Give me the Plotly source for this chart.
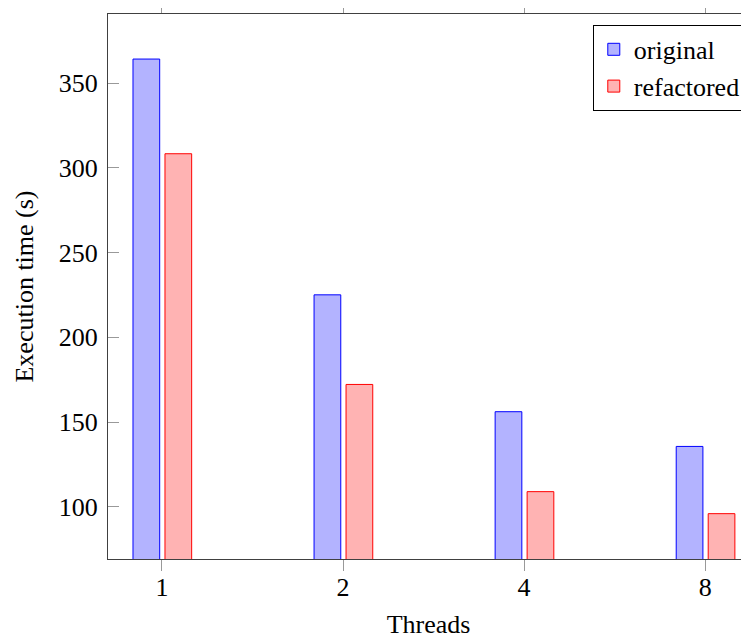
import plotly.graph_objects as go

threads = ["1", "2", "4", "8"]
original = [364.3, 225.1, 156.1, 135.6]
refactored = [308.4, 172.2, 108.9, 95.9]
y_ticks = [100, 150, 200, 250, 300, 350]

FONT = "Liberation Serif"
BAR_W = 0.1475
X_RANGE = [-0.298, 3.242]

fig = go.Figure()
fig.add_trace(go.Bar(
    x=threads, y=original, name="original",
    width=BAR_W, offset=-0.160,
    marker=dict(color="#B3B3FF", line=dict(color="#0000FF", width=1)),
))
fig.add_trace(go.Bar(
    x=threads, y=refactored, name="refactored",
    width=BAR_W, offset=0.0166,
    marker=dict(color="#FFB3B3", line=dict(color="#FF0000", width=1)),
))
# invisible helper trace so the label axis is drawn
fig.add_trace(go.Scatter(
    x=threads, y=original, xaxis="x2", mode="markers",
    marker=dict(opacity=0), showlegend=False, hoverinfo="skip",
))

fig.update_layout(
    width=741, height=631,
    margin=dict(l=100, r=0, t=6, b=80),
    paper_bgcolor="white", plot_bgcolor="white",
    barmode="overlay",
    font=dict(family=FONT, size=26, color="black"),
    showlegend=True,
    legend=dict(
        x=0.995, y=0.98, xanchor="right", yanchor="top",
        bordercolor="black", borderwidth=1, bgcolor="white",
        font=dict(family=FONT, size=26, color="black"),
        tracegroupgap=0,
    ),
    xaxis=dict(
        type="category", range=X_RANGE, automargin=False,
        showline=True, linecolor="#404040", linewidth=1, mirror="ticks",
        ticks="outside", ticklen=11, tickcolor="#999999", tickwidth=1,
        showticklabels=False,
        showgrid=False, zeroline=False,
        title=dict(text="Threads", standoff=44, font=dict(size=26)),
    ),
    xaxis2=dict(
        type="category", range=X_RANGE, overlaying="x", side="bottom",
        anchor="y", automargin=False,
        showline=False, ticks="", showgrid=False, zeroline=False,
        ticklabelstandoff=10, tickfont=dict(size=26),
    ),
    yaxis=dict(
        range=[69.14, 390.9], tickvals=y_ticks, automargin=False,
        showline=True, linecolor="#404040", linewidth=1, mirror=False,
        ticks="inside", ticklen=11, tickcolor="#999999", tickwidth=1,
        showgrid=False, zeroline=False, ticklabelstandoff=4,
        title=dict(text="Execution time (s)", standoff=17, font=dict(size=26)),
        tickfont=dict(size=26),
    ),
)

fig.write_html("out.html")
